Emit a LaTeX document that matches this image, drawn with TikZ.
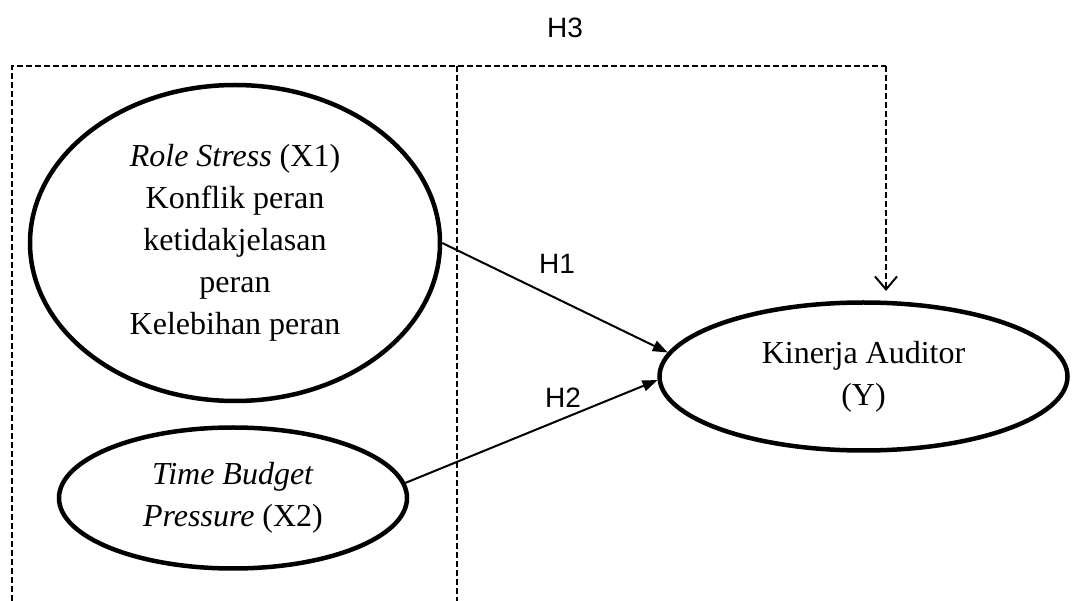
\documentclass[tikz,border=0pt]{standalone}
\usepackage{fontspec}
\setmainfont{Liberation Serif}
\newfontfamily\arialfont{Liberation Sans}
\usetikzlibrary{shapes.geometric,arrows.meta}
\begin{document}
\begin{tikzpicture}[x=1pt,y=-1pt,
  latent/.style={ellipse,draw,line width=4.5pt,inner sep=0pt,align=center,
    font=\fontsize{32}{42}\selectfont},
  causal/.style={line width=2pt,-{Triangle[length=15pt,width=11pt]}},
  dashline/.style={line width=2.2pt,dash pattern=on 6pt off 3pt},
  hyp/.style={font=\arialfont\fontsize{28}{30}\selectfont,inner sep=0pt}]
\useasboundingbox (0,0) rectangle (1072,601);
\node[latent,minimum width=410pt,minimum height=316pt] (X1) at (235,243)
  {\textit{Role Stress} (X1)\\Konflik peran\\ketidakjelasan\\peran\\Kelebihan peran};
\node[latent,minimum width=348pt,minimum height=141pt] (X2) at (233,498)
  {\textit{Time Budget}\\\textit{Pressure} (X2)};
\node[latent,minimum width=408pt,minimum height=148pt] (Y) at (863.5,376.5)
  {Kinerja Auditor\\(Y)};
\coordinate (bl) at (12,601);
\coordinate (tl) at (12,66);
\coordinate (tm) at (457,66);
\coordinate (bm) at (457,601);
\coordinate (tr) at (886,66);
\coordinate (h3end) at (886,291);
\draw[dashline] (bl) -- (tl) -- (tr);
\draw[dashline] (tm) -- (bm);
\draw[dashline,-{Straight Barb[length=13pt,width=22pt,line width=2pt]}] (tr) -- (h3end);
\draw[causal] (X1.east) -- (Y.173);
\draw[causal] (X2.5) -- (Y.181);
\node[hyp] (h1) at (557,263.5) {H1};
\node[hyp] (h2) at (563,398) {H2};
\node[hyp] (h3) at (565,28) {H3};
\end{tikzpicture}
\end{document}
